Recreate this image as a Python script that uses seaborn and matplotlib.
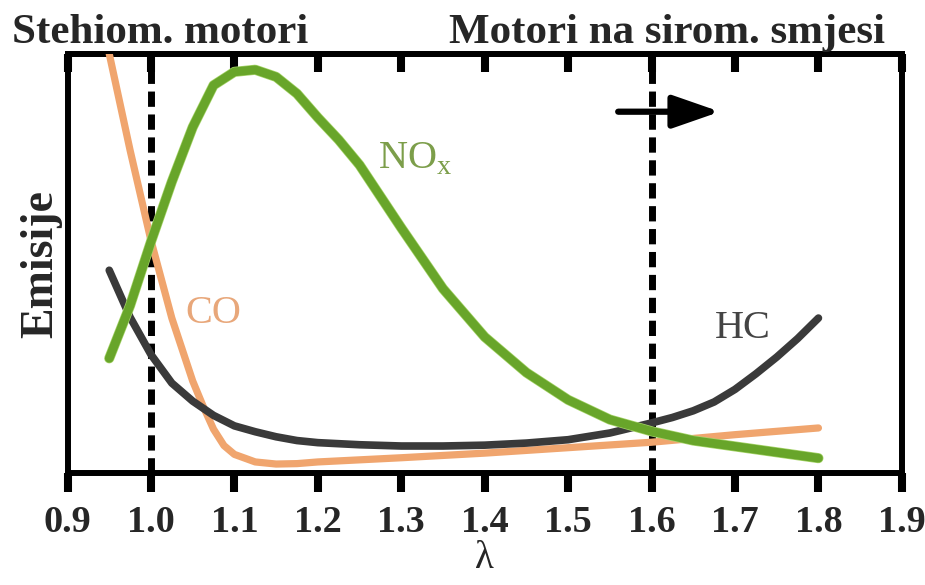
import matplotlib
matplotlib.use("Agg")
import matplotlib.pyplot as plt
import matplotlib.patheffects as pe
import pandas as pd
import seaborn as sns

# ── data (arbitrary emission units, 0..1) ──
co_lam = [0.95, 0.975, 1.0, 1.025, 1.05, 1.0625, 1.075, 1.0875, 1.1, 1.125, 1.15,
          1.175, 1.2, 1.3, 1.4, 1.5, 1.6, 1.7, 1.8]
co     = [1.0, 0.77, 0.555, 0.37, 0.22, 0.16, 0.105, 0.066, 0.045, 0.027, 0.022,
          0.023, 0.027, 0.037, 0.048, 0.061, 0.074, 0.092, 0.108]

hc_lam = [0.95, 0.975, 1.0, 1.025, 1.05, 1.075, 1.1, 1.125, 1.15, 1.175, 1.2, 1.25,
          1.3, 1.35, 1.4, 1.45, 1.5, 1.55, 1.6, 1.625, 1.65, 1.675, 1.7, 1.725,
          1.75, 1.775, 1.8]
hc     = [0.484, 0.372, 0.283, 0.215, 0.172, 0.138, 0.113, 0.099, 0.087, 0.078,
          0.073, 0.068, 0.065, 0.065, 0.067, 0.072, 0.08, 0.096, 0.12, 0.133,
          0.149, 0.17, 0.2, 0.237, 0.277, 0.321, 0.37]

nox_lam = [0.95, 0.975, 1.0, 1.025, 1.05, 1.075, 1.1, 1.125, 1.15, 1.175, 1.2,
           1.225, 1.25, 1.275, 1.3, 1.35, 1.4, 1.45, 1.5, 1.55, 1.6, 1.65, 1.7,
           1.75, 1.8]
nox     = [0.274, 0.40, 0.552, 0.695, 0.825, 0.925, 0.957, 0.962, 0.945, 0.905,
           0.848, 0.795, 0.735, 0.66, 0.585, 0.44, 0.325, 0.24, 0.175, 0.128,
           0.10, 0.078, 0.064, 0.05, 0.036]

boundaries = [1.0, 1.6]
xticks = [0.9, 1.0, 1.1, 1.2, 1.3, 1.4, 1.5, 1.6, 1.7, 1.8, 1.9]

co_df = pd.DataFrame({"lam": co_lam, "val": co})
hc_df = pd.DataFrame({"lam": hc_lam, "val": hc})
nox_df = pd.DataFrame({"lam": nox_lam, "val": nox})

sns.set_theme(style="white")
plt.rcParams["font.family"] = ["Liberation Serif", "DejaVu Serif"]
plt.rcParams["mathtext.fontset"] = "custom"
plt.rcParams["mathtext.rm"] = "Liberation Serif"

fig = plt.figure(figsize=(9.25, 5.85), dpi=100)
ax = fig.add_axes([0.073, 0.191, 0.902, 0.717])

line_kw = dict(solid_capstyle="round", solid_joinstyle="round")
sns.lineplot(data=co_df, x="lam", y="val", ax=ax, color="#F0A56E", lw=5.2,
             zorder=3, **line_kw)
for b in boundaries:
    ax.axvline(b, color="black", lw=5, dashes=(2.2, 1.1), zorder=2)
sns.lineplot(data=hc_df, x="lam", y="val", ax=ax, color="#3A3A3A", lw=5.5,
             zorder=4, **line_kw)
sns.lineplot(data=nox_df, x="lam", y="val", ax=ax, color="#68A52A", lw=6.3,
             zorder=5, **line_kw,
             path_effects=[pe.Stroke(linewidth=7.3, foreground="#A6D46A"), pe.Normal()])

# curve labels
ax.text(1.041, 0.358, "CO", color="#E8A77A", fontsize=29, ha="left", va="baseline")
ax.text(1.272, 0.728, r"NO$_\mathregular{x}$", color="#7C9E4A", fontsize=29,
        ha="left", va="baseline")
ax.text(1.709, 0.322, "HC", color="#444444", fontsize=29, ha="center", va="baseline")

# arrow into the lean region
ax.annotate("", xy=(1.682, 0.862), xytext=(1.56, 0.862),
            arrowprops=dict(arrowstyle="-|>,head_length=1.15,head_width=0.4",
                            color="black", lw=4.5, mutation_scale=25,
                            shrinkA=0, shrinkB=0), zorder=6)

ax.set_xlim(0.9, 1.9)
ax.set_ylim(0, 1)
ax.set_xticks(xticks)
ax.set_xticklabels([f"{t:.1f}" for t in xticks], fontsize=27.5, fontweight="bold")
ax.set_yticks([])
ax.tick_params(axis="x", direction="out", length=14, width=5.8, pad=9,
               color="black", bottom=True)
for s in ax.spines.values():
    s.set_linewidth(4.3)
    s.set_color("black")

top = ax.secondary_xaxis("top")
top.set_xticks(xticks)
top.tick_params(direction="in", length=13, width=5.8, labeltop=False, color="black")
top.spines["top"].set_linewidth(4.3)

ax.set_xlabel("λ", fontsize=28, labelpad=0)
ax.set_ylabel("Emisije", fontsize=33, fontweight="bold", labelpad=4)

fig.text(0.013, 0.9265, "Stehiom. motori", fontsize=31, fontweight="bold",
         ha="left", va="baseline")
fig.text(0.957, 0.9265, "Motori na sirom. smjesi", fontsize=31, fontweight="bold",
         ha="right", va="baseline")

fig.savefig("out.png", dpi=100)
